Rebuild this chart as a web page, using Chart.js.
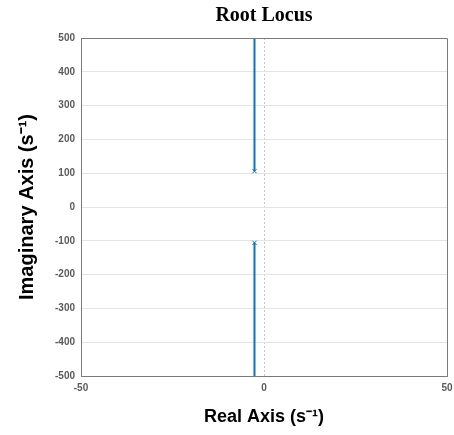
<!DOCTYPE html>
<html>
<head>
<meta charset="utf-8">
<script src="https://cdn.jsdelivr.net/npm/chart.js@4.4.1/dist/chart.umd.min.js"></script>
<style>
  html, body { margin: 0; padding: 0; background: #fff; }
  #wrap { width: 454px; height: 435px; }
</style>
</head>
<body>
<div id="wrap"><canvas id="locus"></canvas></div>
<script>
// locus branches (real part, imaginary part)
const branchReal = [-2.6, -2.6];
const upperImag = [106, 500];
const lowerImag = [-106, -500];
// open-loop poles
const poleReal = [-2.6, -2.6];
const poleImag = [106, -106];
// axis ticks
const xTicks = [-50, 0, 50];
const yTicks = [-500, -400, -300, -200, -100, 0, 100, 200, 300, 400, 500];

const blue = '#0a72c2';
const axisGray = '#7a7a7a';
const toPoints = (xs, ys) => xs.map((x, i) => ({ x: x, y: ys[i] }));

// MATLAB style closed box around the plot area
const boxPlugin = {
    id: 'box',
    afterDraw(chart) {
        const { ctx, chartArea: a } = chart;
        ctx.save();
        ctx.strokeStyle = axisGray;
        ctx.lineWidth = 1;
        ctx.beginPath();
        ctx.moveTo(a.left, a.top + 0.5);
        ctx.lineTo(a.right + 0.5, a.top + 0.5);
        ctx.lineTo(a.right + 0.5, a.bottom);
        ctx.stroke();
        ctx.restore();
    }
};

new Chart(document.getElementById('locus'), {
    type: 'scatter',
    data: {
        datasets: [
            {
                data: toPoints(branchReal, upperImag),
                showLine: true,
                borderColor: blue,
                borderWidth: 2,
                pointRadius: 0,
            },
            {
                data: toPoints(branchReal, lowerImag),
                showLine: true,
                borderColor: blue,
                borderWidth: 2,
                pointRadius: 0,
            },
            {
                data: toPoints(poleReal, poleImag),
                showLine: false,
                pointStyle: 'crossRot',
                pointRadius: 3,
                borderColor: blue,
                borderWidth: 1,
            },
        ],
    },
    options: {
        responsive: true,
        maintainAspectRatio: false,
        animation: false,
        layout: { padding: { top: 0, right: 7, bottom: 0, left: 0 } },
        scales: {
            x: {
                type: 'linear',
                min: -50,
                max: 50,
                afterBuildTicks: (scale) => { scale.ticks = xTicks.map(v => ({ value: v })); },
                afterFit: (scale) => { scale.height = 59; scale.paddingLeft = 0; scale.paddingRight = 0; },
                grid: {
                    drawTicks: false,
                    color: (ctx) => (ctx.tick && ctx.tick.value === 0) ? '#c4c4c4' : 'rgba(0,0,0,0)',
                },
                border: {
                    color: axisGray,
                    dash: (ctx) => (ctx.tick && ctx.tick.value === 0) ? [2, 2] : [],
                },
                ticks: {
                    padding: 6,
                    color: '#5a5a5a',
                    font: { family: 'Liberation Sans, Arial', size: 10, weight: 'bold' },
                },
                title: {
                    display: true,
                    text: 'Real Axis (s\u207B\u00B9)',
                    color: '#000',
                    font: { family: 'Liberation Sans, Arial', size: 18, weight: 'bold' },
                    padding: { top: 0, bottom: 7 },
                },
            },
            y: {
                type: 'linear',
                min: -500,
                max: 500,
                afterBuildTicks: (scale) => { scale.ticks = yTicks.map(v => ({ value: v })); },
                afterFit: (scale) => { scale.width = 81; scale.paddingTop = 0; scale.paddingBottom = 0; },
                grid: {
                    drawTicks: false,
                    color: '#e4e4e4',
                },
                border: { color: axisGray },
                ticks: {
                    padding: 6,
                    color: '#5a5a5a',
                    font: { family: 'Liberation Sans, Arial', size: 10, weight: 'bold' },
                },
                title: {
                    display: true,
                    text: 'Imaginary Axis (s\u207B\u00B9)',
                    color: '#000',
                    font: { family: 'Liberation Sans, Arial', size: 20, weight: 'bold' },
                    padding: { top: 15, bottom: 0 },
                },
            },
        },
        plugins: {
            legend: { display: false },
            tooltip: { enabled: false },
            title: {
                display: true,
                fullSize: false,
                text: 'Root Locus',
                color: '#000',
                font: { family: 'Liberation Serif, Times New Roman', size: 20, weight: 'bold' },
                padding: { top: 4, bottom: 10 },
            },
        },
    },
    plugins: [boxPlugin],
});
</script>
</body>
</html>
